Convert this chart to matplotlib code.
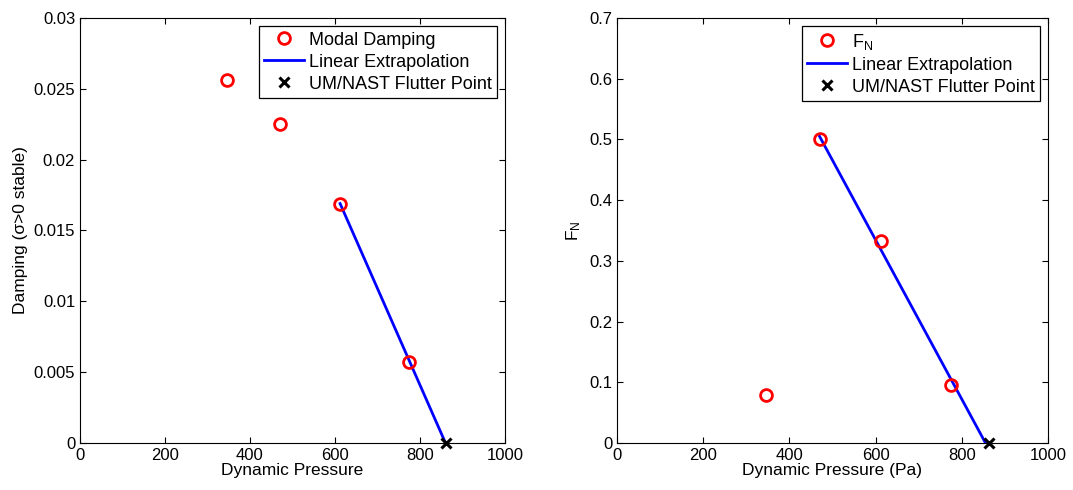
import matplotlib
matplotlib.use('Agg')
import matplotlib.pyplot as plt

plt.rcParams['font.family'] = ['Liberation Sans', 'DejaVu Sans']
plt.rcParams['mathtext.fontset'] = 'custom'
plt.rcParams['mathtext.rm'] = 'Liberation Sans'

# Damping panel
damp_q = [345, 470, 612, 775]
damp_val = [0.0256, 0.0225, 0.0169, 0.0057]
damp_fit_q = [612, 860]
damp_fit_val = [0.0169, 0.0]

# F_N panel
fn_q = [345, 470, 612, 775]
fn_val = [0.079, 0.500, 0.333, 0.096]
fn_fit_q = [470, 855]
fn_fit_val = [0.505, 0.0]

flutter_q = [862]
flutter_val = [0.0]

fig = plt.figure(figsize=(10.73, 4.9), dpi=100)
ax1 = fig.add_axes([80 / 1073, 47 / 490, 425 / 1073, 425 / 490])
ax2 = fig.add_axes([617 / 1073, 47 / 490, 431 / 1073, 425 / 490])


def draw(ax, q, val, fit_q, fit_val, label, ylim, yticks, yticklabels, xlabel, ylabel):
    ax.plot(q, val, 'o', mfc='none', mec='red', mew=2, ms=8.5, label=label, zorder=3)
    ax.plot(fit_q, fit_val, '-', color='blue', lw=2, label='Linear Extrapolation', zorder=2)
    ax.plot(flutter_q, flutter_val, 'x', color='black', mew=2.2, ms=6.5,
            label='UM/NAST Flutter Point', zorder=4, clip_on=False)
    ax.set_xlim(0, 1000)
    ax.set_ylim(*ylim)
    ax.set_xticks([0, 200, 400, 600, 800, 1000])
    ax.set_yticks(yticks)
    ax.set_yticklabels(yticklabels)
    ax.tick_params(direction='in', top=True, right=True, labelsize=12, length=4, width=0.8)
    ax.set_xlabel(xlabel, fontsize=12.5, labelpad=0)
    ax.set_ylabel(ylabel, fontsize=12.5, labelpad=4)
    for s in ax.spines.values():
        s.set_linewidth(0.8)
    leg = ax.legend(loc='upper right', fontsize=13, fancybox=False, framealpha=1,
                    edgecolor='black', borderaxespad=0.45, handlelength=2.2,
                    handletextpad=0.25, labelspacing=0.28, borderpad=0.3)
    leg.get_frame().set_linewidth(0.9)


draw(ax1, damp_q, damp_val, damp_fit_q, damp_fit_val, 'Modal Damping',
     (0, 0.03), [0, 0.005, 0.01, 0.015, 0.02, 0.025, 0.03],
     ['0', '0.005', '0.01', '0.015', '0.02', '0.025', '0.03'],
     'Dynamic Pressure', 'Damping (\u03c3>0 stable)')

draw(ax2, fn_q, fn_val, fn_fit_q, fn_fit_val, r'$\mathregular{F_N}$',
     (0, 0.7), [0, 0.1, 0.2, 0.3, 0.4, 0.5, 0.6, 0.7],
     ['0', '0.1', '0.2', '0.3', '0.4', '0.5', '0.6', '0.7'],
     'Dynamic Pressure (Pa)', r'$\mathregular{F_N}$')

fig.savefig('out.png', dpi=100)
